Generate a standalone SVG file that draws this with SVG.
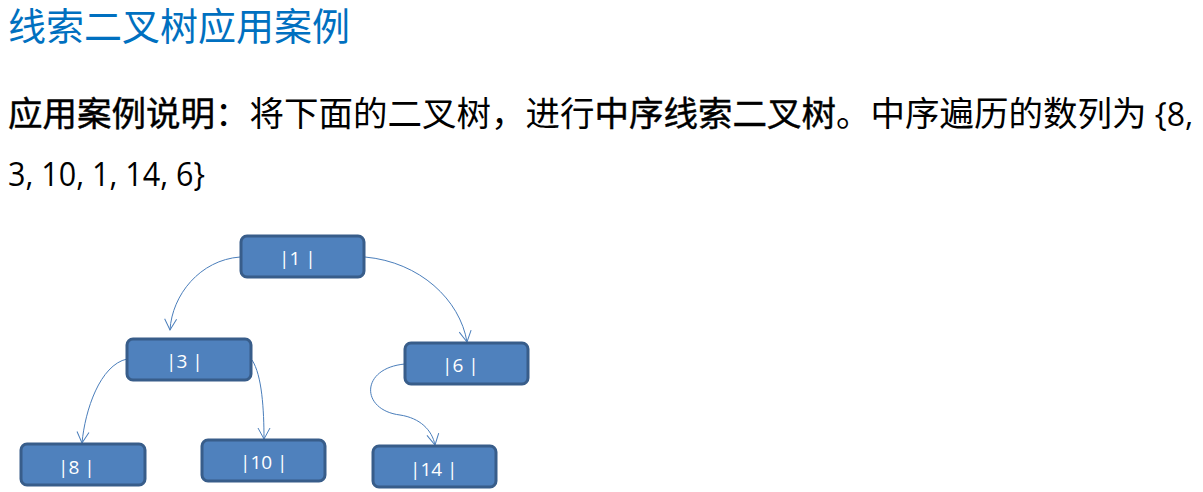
<svg xmlns="http://www.w3.org/2000/svg" width="1203" height="492" viewBox="0 0 1203 492">
<style>
.title{font-family:"Noto Sans CJK SC","Liberation Sans",sans-serif;font-size:38px;fill:#0070C0}
.body{font-family:"Noto Sans CJK SC","Liberation Sans",sans-serif;font-size:34.5px;fill:#000}
.lat{font-family:"Open Sans","Liberation Sans",sans-serif;font-size:32px;fill:#000}
.b{stroke:#000;stroke-width:0.45}
.node rect{fill:#4F81BD;stroke:#385D8A;stroke-width:3}
.node text{font-family:"Open Sans","Liberation Sans",sans-serif;font-size:19px;fill:#fff}
.edge{fill:none;stroke:#4A7EBB;stroke-width:1;marker-end:url(#arr)}
</style>
<defs>
<marker id="arr" viewBox="0 0 14 14" markerWidth="14" markerHeight="14" refX="12" refY="7" orient="auto" markerUnits="userSpaceOnUse">
<path d="M1,1 L12,7 L1,13" fill="none" stroke="#4A7EBB" stroke-width="1"/>
</marker>
</defs>
<rect width="1203" height="492" fill="#fff"/>
<text class="title" x="8" y="40">线索二叉树应用案例</text>
<text class="body" x="8" y="126"><tspan class="b">应用案例说明</tspan>：将下面的二叉树，进行<tspan class="b">中序线索二叉树</tspan>。中序遍历的数列为<tspan class="lat"> {8,</tspan></text>
<text class="lat" x="8" y="186" textLength="197" lengthAdjust="spacingAndGlyphs">3, 10, 1, 14, 6}</text>
<g id="connectors">
<path class="edge" d="M240,257 C200,260 172,295 170,330"/>
<path class="edge" d="M365,257 C420,262 460,300 467,342"/>
<path class="edge" d="M127,359 C100,365 85,410 82,443"/>
<path class="edge" d="M252,360 C262,375 264,410 264,439"/>
<path class="edge" d="M405,364 C360,368 360,410 400,415 C420,418 432,430 435,445"/>
</g>
<g id="n1" class="node"><rect x="241" y="236" width="123" height="41" rx="6"/><text x="279" y="265">|1 |</text></g>
<g id="n3" class="node"><rect x="127" y="339" width="124" height="41" rx="6"/><text x="166" y="368">|3 |</text></g>
<g id="n6" class="node"><rect x="405" y="343" width="123" height="41" rx="6"/><text x="442" y="372">|6 |</text></g>
<g id="n8" class="node"><rect x="21" y="444" width="124" height="41" rx="6"/><text x="58" y="474">|8 |</text></g>
<g id="n10" class="node"><rect x="202" y="440" width="123" height="41" rx="6"/><text x="240" y="469">|10 |</text></g>
<g id="n14" class="node"><rect x="373" y="446" width="123" height="41" rx="6"/><text x="410" y="476">|14 |</text></g>
</svg>
